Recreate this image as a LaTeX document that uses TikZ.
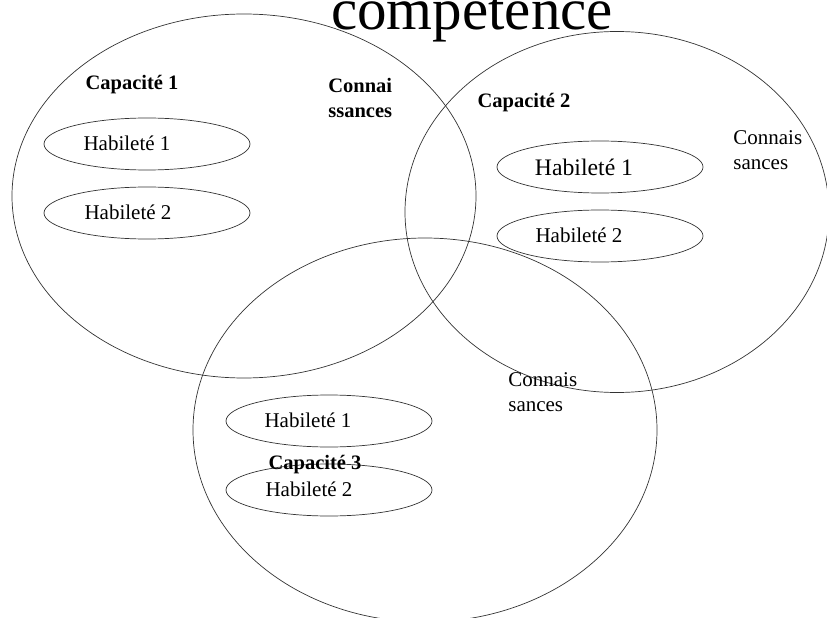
\documentclass[tikz,border=0pt]{standalone}
\usepackage{fontspec}
\setmainfont{Liberation Serif}
\usepackage{tikz}
\usetikzlibrary{shapes.geometric}
\usetikzlibrary{positioning}

\tikzset{
  zone/.style={ellipse, draw, inner sep=0pt},
  habil/.style={ellipse, draw, inner sep=0pt, minimum width=206bp, minimum height=52bp},
  txt/.style={inner sep=0pt, font=\fontsize{21bp}{25.5bp}\selectfont\rmfamily},
  bigtxt/.style={inner sep=0pt, font=\fontsize{23.7bp}{28bp}\selectfont\rmfamily},
  capa/.style={txt, font=\fontsize{20.5bp}{25.5bp}\selectfont\rmfamily\bfseries},
}

\begin{document}
\begin{tikzpicture}[x=1bp, y=-1bp, line width=0.7bp, draw=black!80]
  \clip (0,0) rectangle (827,618);
  % titre
  \node[inner sep=0pt, anchor=base, font=\fontsize{59bp}{60bp}\selectfont\rmfamily] (titre) at (472,30) {compétence};
  % les trois capacites
  \node[zone, minimum width=464bp, minimum height=364bp] (cap1) at (244,196) {};
  \node[zone, minimum width=424bp, minimum height=361bp] (cap2) at (617,212) {};
  \node[zone, minimum width=464bp, minimum height=384bp] (cap3) at (425,430) {};
  % habiletes
  \node[habil] (hab11) at (147,144) {};
  \node[habil] (hab12) at (147,213) {};
  \node[habil] (hab21) at (600,167) {};
  \node[habil] (hab22) at (600,236) {};
  \node[habil] (hab31) at (329,421) {};
  \node[habil] (hab32) at (329,490) {};
  \node[txt] (t11) at (127,143) {Habileté 1};
  \node[txt] (t12) at (128,212) {Habileté 2};
  \node[bigtxt] (t21) at (584,167) {Habileté 1};
  \node[txt] (t22) at (579,235) {Habileté 2};
  \node[txt] (t31) at (308,420) {Habileté 1};
  \node[txt] (t32) at (309,489) {Habileté 2};
  % etiquettes
  \node[capa] (lbl1) at (132,85) {Capacité 1};
  \node[capa] (lbl2) at (524,103) {Capacité 2};
  \node[capa] (lbl3) at (315,465) {Capacité 3};
  \node[capa, align=left, anchor=west] (con1) at (328,98) {Connai\\ssances};
  \node[txt, align=left, anchor=west] (con2) at (733,150) {Connais\\sances};
  \node[txt, align=left, anchor=west] (con3) at (508,392) {Connais\\sances};
\end{tikzpicture}
\end{document}
